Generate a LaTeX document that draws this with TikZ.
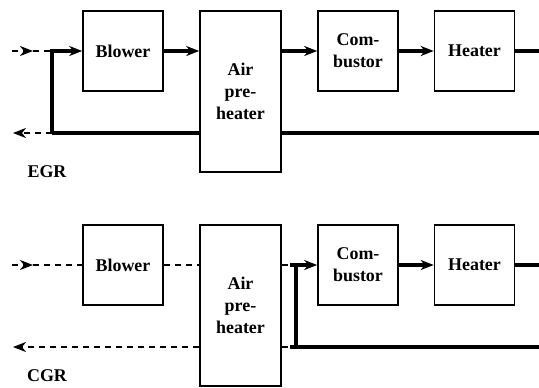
\documentclass[tikz,border=0pt]{standalone}
\usepackage{fontspec}
\setmainfont{Liberation Serif}
\usetikzlibrary{arrows.meta}
\begin{document}
\begin{tikzpicture}[x=1bp,y=-1bp,
  box/.style={draw, line width=1.6bp, minimum width=80bp, minimum height=80bp, inner sep=0pt,
    align=center, font=\bfseries\fontsize{18}{22}\selectfont},
  tall/.style={box, minimum width=81bp, minimum height=161bp},
  lbl/.style={font=\bfseries\fontsize{18}{22}\selectfont, inner sep=0pt},
  flow/.style={line width=3.2bp},
  dflow/.style={line width=2bp, dash pattern=on 6bp off 5bp},
  tip/.style={-{Stealth[length=13bp,width=10bp,inset=4bp]}}]
\useasboundingbox (0,0) rectangle (539,387);
% ---------- top (EGR) ----------
\node[box] (bl1) at (123,51) {Blower};
\node[tall] (ap1) at (240.5,91.5) {Air\\pre-\\heater};
\node[box] (co1) at (358,51) {Com-\\bustor};
\node[box] (he1) at (474.5,51) {Heater};
\coordinate (in1) at (12,51);
\coordinate (ia1) at (33,51);
\coordinate (j1) at (52,51);
\coordinate (r1) at (52,133);
\coordinate (o1) at (13,133);
\coordinate (apw1) at (ap1.west |- r1);
\coordinate (ape1) at (ap1.east |- r1);
\coordinate (end1) at (539,133);
\coordinate (endm1) at (539,51);
\draw[dflow,tip] (in1) -- (ia1);
\draw[dflow] (ia1) -- (j1);
\draw[flow,tip] (r1) -- (j1) -- (bl1.west);
\draw[flow] (apw1) -- (r1);
\draw[dflow,tip] (r1) -- (o1);
\draw[flow,tip] (bl1.east) -- (bl1.east -| ap1.west);
\draw[flow,tip] (co1.west -| ap1.east) -- (co1.west);
\draw[flow,tip] (co1.east) -- (he1.west);
\draw[flow] (he1.east) -- (endm1);
\draw[flow] (ape1) -- (end1);
\node[lbl] (egr) at (47,172) {EGR};
% ---------- bottom (CGR) ----------
\node[box] (bl2) at (123,265) {Blower};
\node[tall] (ap2) at (240.5,305.5) {Air\\pre-\\heater};
\node[box] (co2) at (358,265) {Com-\\bustor};
\node[box] (he2) at (474.5,265) {Heater};
\coordinate (in2) at (12,265);
\coordinate (ia2) at (33,265);
\coordinate (s2) at (290,265);
\coordinate (v2) at (296,265);
\coordinate (vb2) at (296,347);
\coordinate (sb2) at (290,347);
\coordinate (o2) at (13,347);
\coordinate (apw2) at (ap2.west |- sb2);
\coordinate (ape2) at (ap2.east |- sb2);
\coordinate (end2) at (539,347);
\coordinate (endm2) at (539,265);
\draw[dflow,tip] (in2) -- (ia2);
\draw[dflow] (ia2) -- (bl2.west);
\draw[dflow] (bl2.east) -- (bl2.east -| ap2.west);
\draw[dflow] (bl2.east -| ap2.east) -- (s2);
\draw[flow,tip] (s2) -- (co2.west);
\draw[flow] (vb2) -- (v2);
\draw[flow,tip] (co2.east) -- (he2.west);
\draw[flow] (he2.east) -- (endm2);
\draw[flow] (sb2) -- (end2);
\draw[dflow] (ape2) -- (sb2);
\draw[dflow,tip] (apw2) -- (o2);
\node[lbl] (cgr) at (47,376) {CGR};
\end{tikzpicture}
\end{document}
